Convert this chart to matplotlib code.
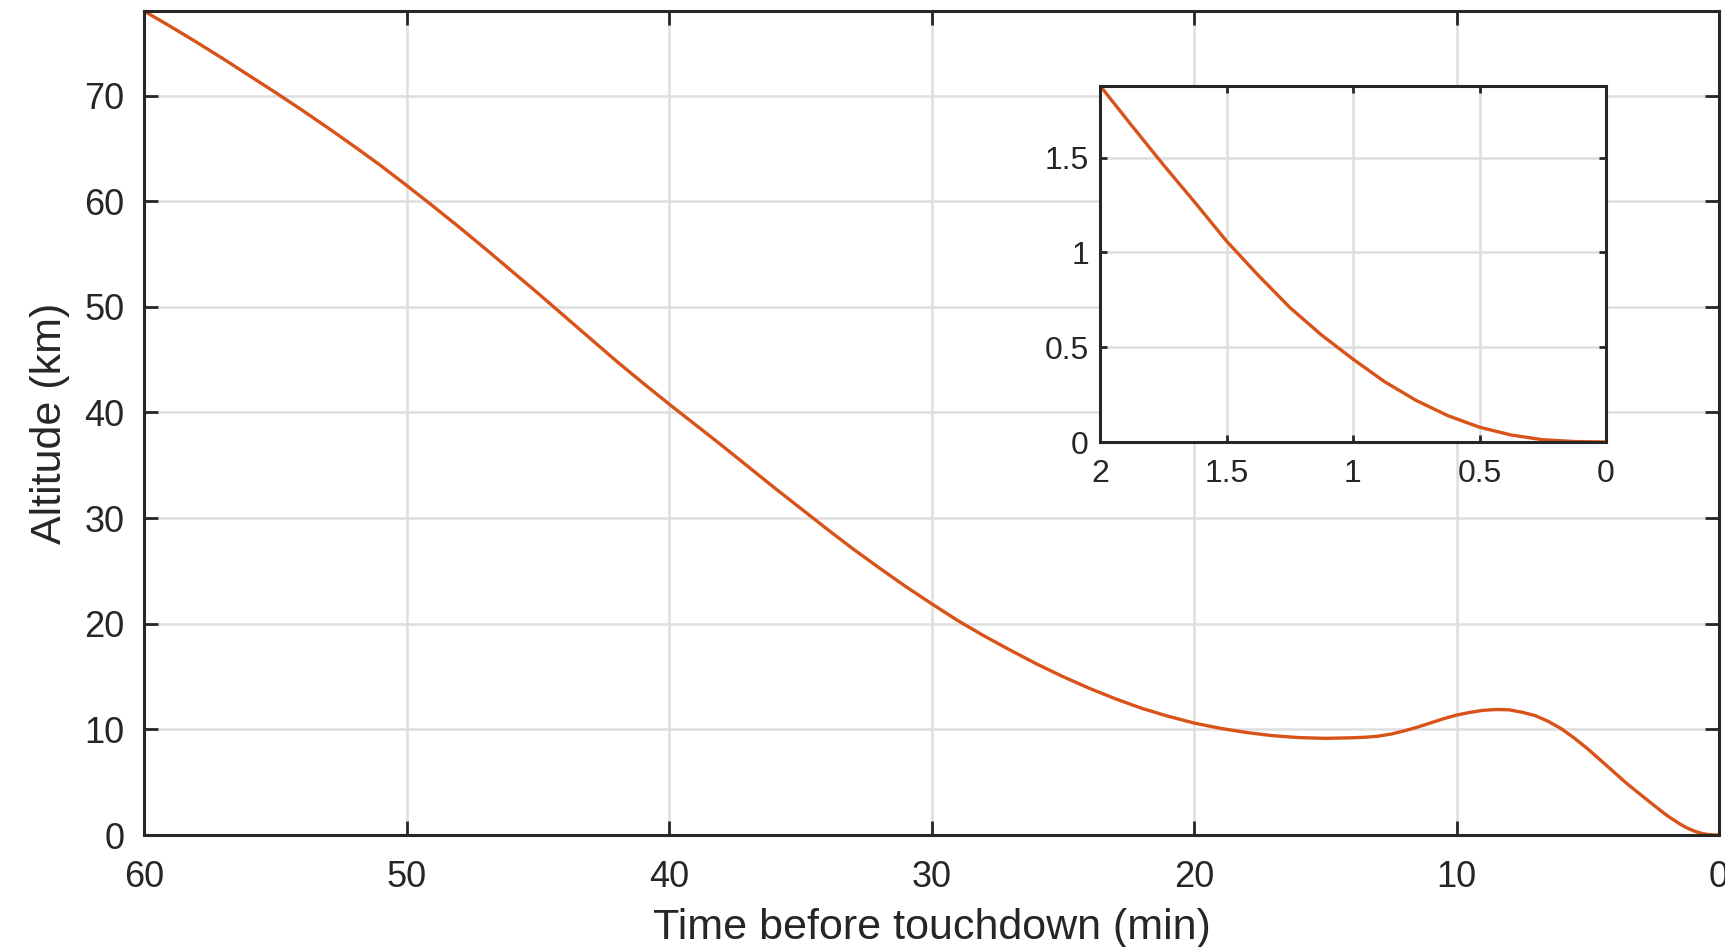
import matplotlib
matplotlib.use("Agg")
import matplotlib.pyplot as plt

# -------------------------------------------------
# data (minutes before touchdown, km)
# -------------------------------------------------
t_min = [60, 59, 58, 57, 56, 55, 54, 53, 52, 51,
         50, 49, 48, 47, 46, 45, 44, 43, 42, 41,
         40, 39, 38, 37, 36, 35, 34, 33, 32, 31,
         30, 29, 28, 27, 26, 25, 24, 23, 22, 21,
         20, 19, 18, 17, 16, 15, 14, 13.5, 13, 12.5, 12, 11.5, 11, 10.5,
         10, 9.5, 9, 8.5, 8, 7.5, 7, 6.5, 6, 5.5, 5, 4.5, 4, 3.5, 3, 2.5,
         2.0, 1.875, 1.75, 1.625, 1.5, 1.375, 1.25, 1.125, 1.0, 0.875,
         0.75, 0.625, 0.5, 0.375, 0.25, 0.125, 0.0]
alt_km = [78.0, 76.55, 75.05, 73.5, 71.9, 70.3, 68.65, 66.95, 65.2, 63.4,
          61.5, 59.55, 57.55, 55.5, 53.4, 51.3, 49.15, 47.0, 44.85, 42.8,
          40.8, 38.85, 36.9, 34.9, 32.9, 30.95, 29.0, 27.1, 25.3, 23.55,
          21.9, 20.3, 18.85, 17.5, 16.2, 15.0, 13.9, 12.9, 12.0, 11.25,
          10.6, 10.1, 9.7, 9.4, 9.22, 9.15, 9.2, 9.25, 9.35, 9.55, 9.85,
          10.2, 10.6, 11.0, 11.35, 11.6, 11.8, 11.88, 11.85, 11.62, 11.3,
          10.75, 10.05, 9.15, 8.15, 7.05, 5.95, 4.85, 3.85, 2.85,
          1.88, 1.67, 1.463, 1.264, 1.06, 0.88, 0.71, 0.565, 0.437, 0.318,
          0.219, 0.139, 0.078, 0.037, 0.012, 0.0024, 0.0]

main_xticks = [60, 50, 40, 30, 20, 10, 0]
main_yticks = [0, 10, 20, 30, 40, 50, 60, 70]
inset_xticks = [2, 1.5, 1, 0.5, 0]
inset_yticks = [0, 0.5, 1, 1.5]

LINE_C = "#D95319"
AX_C = "#262626"
GRID_C = "#DEDEDE"

plt.rcParams["font.family"] = ["Liberation Sans", "DejaVu Sans"]

fig = plt.figure(figsize=(17.25, 9.47), dpi=100)


def style_axes(ax, labsize, xpad, ypad, ticklen):
    for s in ax.spines.values():
        s.set_color(AX_C)
        s.set_linewidth(2.2)
    ax.grid(True, color=GRID_C, linewidth=1.8)
    ax.set_axisbelow(True)
    ax.tick_params(direction="in", top=True, right=True, length=ticklen,
                   width=2.0, colors=AX_C, labelsize=labsize)
    ax.tick_params(axis="x", pad=xpad)
    ax.tick_params(axis="y", pad=ypad)


# main axes
ax = fig.add_axes([144 / 1725, 1 - 835 / 947, (1719 - 144) / 1725, (835 - 11) / 947])
ax.plot(t_min, alt_km, color=LINE_C, linewidth=2.4)
ax.set_xlim(60, 0)
ax.set_ylim(0, 78)
ax.set_xticks(main_xticks)
ax.set_yticks(main_yticks)
style_axes(ax, 26, 18, 14, 10)
ax.set_xlabel("Time before touchdown (min)", fontsize=31, color=AX_C, labelpad=9)
ax.set_ylabel("Altitude (km)", fontsize=31, color=AX_C, labelpad=10)

# inset: last two minutes
axi = fig.add_axes([1100 / 1725, 1 - 442 / 947, (1606 - 1100) / 1725, (442 - 86) / 947])
axi.plot(t_min, alt_km, color=LINE_C, linewidth=2.4)
axi.set_xlim(2, 0)
axi.set_ylim(0, 1.878)
axi.set_xticks(inset_xticks)
axi.set_xticklabels(["2", "1.5", "1", "0.5", "0"])
axi.set_yticks(inset_yticks)
axi.set_yticklabels(["0", "0.5", "1", "1.5"])
style_axes(axi, 23, 12, 8, 5)

fig.savefig("out.png", dpi=100, facecolor="white")
